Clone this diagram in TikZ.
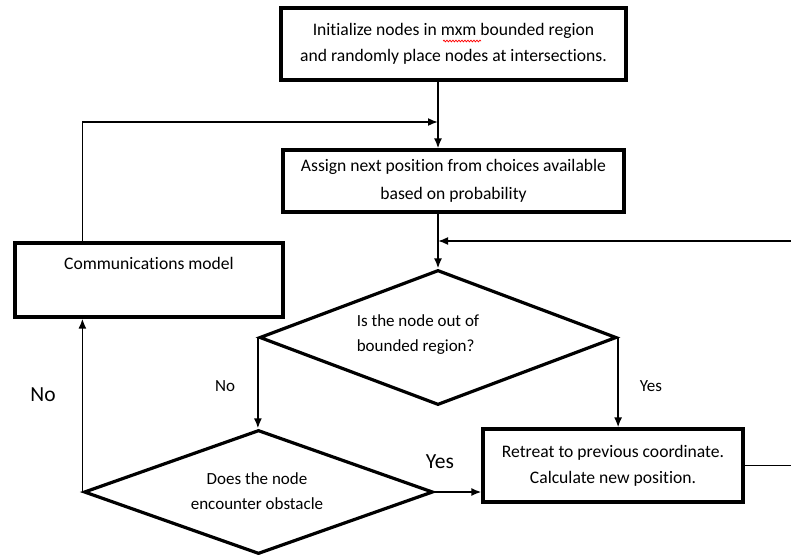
\documentclass[tikz,border=0pt]{standalone}
\usepackage{fontspec}
\setmainfont[Ligatures=NoCommon]{Carlito}
\usetikzlibrary{shapes.geometric,arrows.meta,decorations.pathmorphing}
\begin{document}
\begin{tikzpicture}[x=1pt,y=-1pt,
  boxnode/.style={draw,line width=3.2pt,rectangle,inner sep=0pt,align=center,font=\fontsize{17.6}{26}\selectfont},
  decnode/.style={draw,line width=3.2pt,diamond,inner sep=0pt},
  txt/.style={inner sep=0pt,font=\fontsize{17}{25}\selectfont},
  bigtxt/.style={inner sep=0pt,font=\fontsize{21.5}{24}\selectfont},
  arr/.style={line width=1.7pt,-{Latex[length=10pt,width=8pt]}},
  ln/.style={line width=1.7pt}]
\useasboundingbox (0,0) rectangle (791,554);
% boxes
\node[boxnode,minimum width=345pt,minimum height=72pt] (box1) at (453.5,44)
  {Initialize nodes in mxm bounded region\\and randomly place nodes at intersections.};
\node[boxnode,minimum width=341pt,minimum height=62pt,font=\fontsize{17.6}{28}\selectfont] (box2) at (453.5,181)
  {Assign next position from choices available\\based on probability};
\node[boxnode,minimum width=268pt,minimum height=74pt] (comm) at (149,280)
  {Communications model\\ \strut};
\node[boxnode,minimum width=260pt,minimum height=73pt] (ret) at (613,465.5)
  {Retreat to previous coordinate.\\Calculate new position.};
% decisions
\node[decnode,minimum width=357pt,minimum height=135pt] (d1) at (438,337.5) {};
\node[txt,align=left] (d1t) at (418,335) {Is the node out of\\bounded region?};
\node[decnode,minimum width=349pt,minimum height=124pt] (d2) at (258.5,492) {};
\node[txt,align=center] (d2t) at (257,491) {Does the node\\encounter obstacle};
% spell-check underline
\draw[red,line width=0.7pt,decorate,decoration={snake,amplitude=0.9pt,segment length=3pt}] (443,41) -- (481,41);
% coordinates
\coordinate (j1) at (438,122);
\coordinate (rin) at (791,241);
\coordinate (rout) at (791,464);
% connectors
\draw[arr] (d1.north |- box1.south) -- (d1.north |- box2.north);
\draw[arr] (d2.west |- comm.north) |- (j1);
\draw[arr] (d1.north |- box2.south) -- (d1.north);
\draw[arr] (rin) -- (d1.north |- rin);
\draw[arr] (d1.west) -- (d1.west |- d2.north);
\draw[arr] (d1.east) -- (d1.east |- ret.north);
\draw[arr] (d2.west) -- (d2.west |- comm.south);
\draw[arr] (d2.east) -- (d2.east -| ret.west);
\draw[ln] (ret.east) -- (ret.east -| rout);
% labels
\node[txt] (lno1) at (225,386) {No};
\node[txt] (lyes1) at (651,386) {Yes};
\node[bigtxt] (lno2) at (43,395) {No};
\node[bigtxt] (lyes2) at (440,462) {Yes};
\end{tikzpicture}
\end{document}
